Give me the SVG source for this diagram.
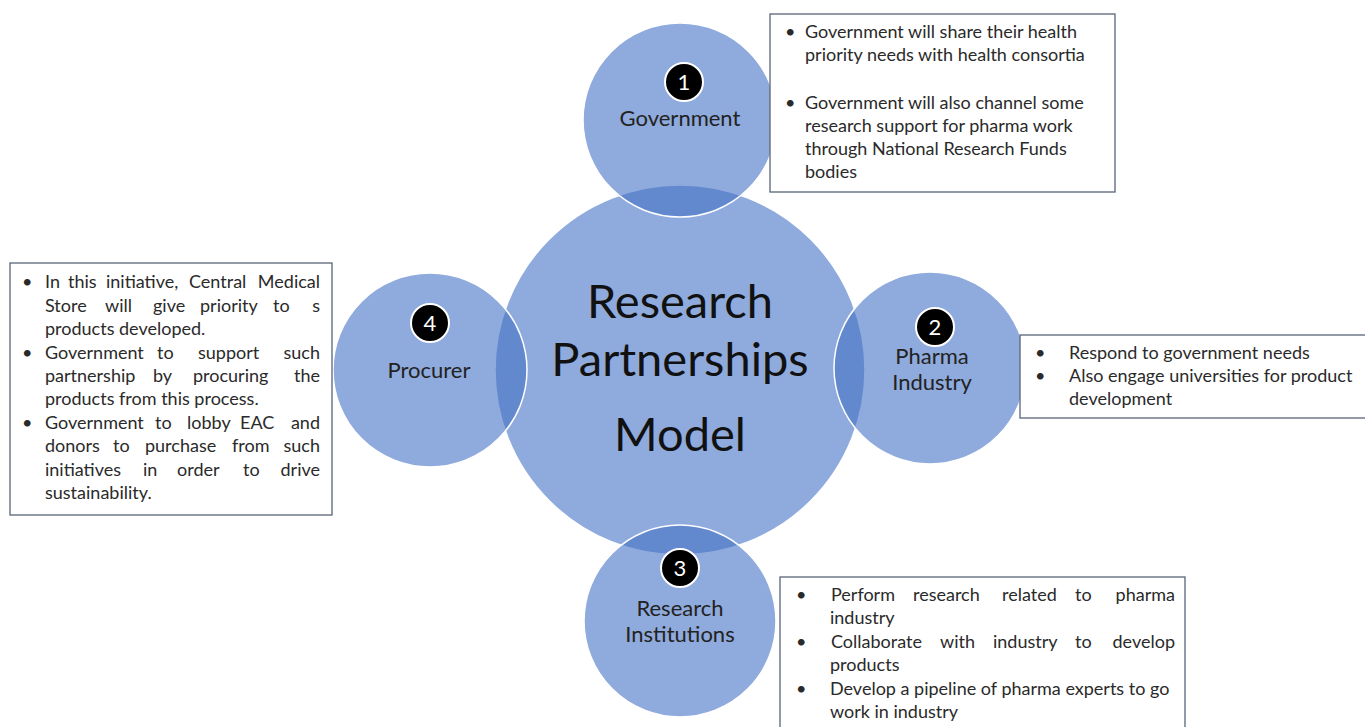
<svg xmlns="http://www.w3.org/2000/svg" width="1365" height="727" viewBox="0 0 1365 727">
<style>
.c{fill:#4472C4;fill-opacity:0.6;stroke:#ffffff;stroke-width:1.5}
.badge{fill:#000;stroke:#fff;stroke-width:2}
.num{font-family:Lato,"Liberation Sans",sans-serif;font-size:22px;fill:#fff;text-anchor:middle}
.lbl{font-family:Lato,"Liberation Sans",sans-serif;font-size:22px;fill:#222;text-anchor:middle}
.title{font-family:Lato,"Liberation Sans",sans-serif;font-size:47px;fill:#111;text-anchor:middle}
.box{fill:#fff;stroke:#5a6478;stroke-width:1.3}
.t{font-family:Lato,"Liberation Sans",sans-serif;font-size:18px;fill:#2a2a2a}
.e{text-anchor:end}
</style>
<rect width="1365" height="727" fill="#fff"/>
<g id="connectors"></g>
<g id="center"><circle class="c" cx="680" cy="370" r="185"/>
<text class="title" x="680" y="318">Research</text>
<text class="title" x="680" y="376">Partnerships</text>
<text class="title" x="680" y="451">Model</text></g>
<g id="government"><circle class="c" cx="680" cy="120" r="97"/>
<circle class="badge" cx="684" cy="82" r="19"/><text class="num" x="684" y="90">1</text>
<text class="lbl" x="680" y="126">Government</text></g>
<g id="pharma"><circle class="c" cx="930" cy="368" r="96"/>
<circle class="badge" cx="935" cy="327" r="19"/><text class="num" x="935" y="335">2</text>
<text class="lbl" x="932" y="364">Pharma</text><text class="lbl" x="932" y="390">Industry</text></g>
<g id="research"><circle class="c" cx="680" cy="621" r="96"/>
<circle class="badge" cx="680" cy="568" r="19"/><text class="num" x="680" y="576">3</text>
<text class="lbl" x="680" y="616">Research</text><text class="lbl" x="680" y="642">Institutions</text></g>
<g id="procurer"><circle class="c" cx="430" cy="370" r="97"/>
<circle class="badge" cx="430" cy="323" r="19"/><text class="num" x="430" y="331">4</text>
<text class="lbl" x="429" y="378">Procurer</text></g>
<g id="box-government"><rect class="box" x="770" y="14" width="345" height="178"/>
<text class="t" x="785" y="38">•</text>
<text class="t" x="805" y="38">Government will share their health</text>
<text class="t" x="805" y="61">priority needs with health consortia</text>
<text class="t" x="785" y="109">•</text>
<text class="t" x="805" y="109">Government will also channel some</text>
<text class="t" x="805" y="132">research support for pharma work</text>
<text class="t" x="805" y="155">through National Research Funds</text>
<text class="t" x="805" y="178">bodies</text></g>
<g id="box-pharma"><rect class="box" x="1020" y="335" width="350" height="83"/>
<text class="t" x="1035" y="359">•</text>
<text class="t" x="1069" y="359">Respond to government needs</text>
<text class="t" x="1035" y="382">•</text>
<text class="t" x="1069" y="382">Also engage universities for product</text>
<text class="t" x="1069" y="405">development</text></g>
<g id="box-research"><rect class="box" x="780" y="577" width="405" height="160"/>
<text class="t" x="796" y="601">•</text>
<text class="t" y="601"><tspan x="831">Perform</tspan><tspan x="913">research</tspan><tspan x="1002">related</tspan><tspan x="1075">to</tspan></text>
<text class="t e" x="1175" y="601">pharma</text>
<text class="t" x="830" y="624">industry</text>
<text class="t" x="796" y="648">•</text>
<text class="t" y="648"><tspan x="831">Collaborate</tspan><tspan x="940">with</tspan><tspan x="993">industry</tspan><tspan x="1075">to</tspan></text>
<text class="t e" x="1175" y="648">develop</text>
<text class="t" x="830" y="671">products</text>
<text class="t" x="796" y="695">•</text>
<text class="t" x="830" y="695">Develop a pipeline of pharma experts to go</text>
<text class="t" x="830" y="718">work in industry</text></g>
<g id="box-procurer"><rect class="box" x="10" y="263" width="322" height="252"/>
<text class="t" x="22" y="288">•</text>
<text class="t" y="288"><tspan x="45">In</tspan><tspan x="68">this</tspan><tspan x="106">initiative,</tspan><tspan x="189">Central</tspan></text>
<text class="t e" x="320" y="288">Medical</text>
<text class="t" y="312"><tspan x="45">Store</tspan><tspan x="105">will</tspan><tspan x="153">give</tspan><tspan x="200">priority</tspan><tspan x="273">to</tspan></text>
<text class="t e" x="320" y="312">s</text>
<text class="t" x="45" y="335">products developed.</text>
<text class="t" x="22" y="359">•</text>
<text class="t" y="359"><tspan x="45">Government</tspan><tspan x="157">to</tspan><tspan x="198">support</tspan></text>
<text class="t e" x="320" y="359">such</text>
<text class="t" y="382"><tspan x="45">partnership</tspan><tspan x="153">by</tspan><tspan x="193">procuring</tspan></text>
<text class="t e" x="320" y="382">the</text>
<text class="t" x="45" y="405">products from this process.</text>
<text class="t" x="22" y="429">•</text>
<text class="t" y="429"><tspan x="45">Government</tspan><tspan x="155">to</tspan><tspan x="187">lobby</tspan><tspan x="240">EAC</tspan></text>
<text class="t e" x="320" y="429">and</text>
<text class="t" y="452"><tspan x="45">donors</tspan><tspan x="113">to</tspan><tspan x="145">purchase</tspan><tspan x="232">from</tspan></text>
<text class="t e" x="320" y="452">such</text>
<text class="t" y="476"><tspan x="45">initiatives</tspan><tspan x="143">in</tspan><tspan x="177">order</tspan><tspan x="243">to</tspan></text>
<text class="t e" x="320" y="476">drive</text>
<text class="t" x="45" y="499">sustainability.</text></g>
</svg>
